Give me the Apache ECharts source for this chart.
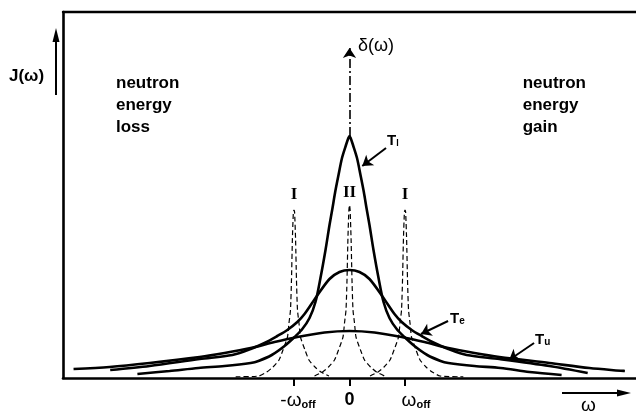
<!DOCTYPE html>
<html>
<head>
<meta charset="utf-8">
<script src="https://cdn.jsdelivr.net/npm/echarts@6/dist/echarts.min.js"></script>
<style>html,body{margin:0;padding:0;background:#fff}#c{width:636px;height:412px}</style>
</head>
<body>
<div id="c"></div>
<script>
// x in units of omega/omega_off, y = intensity (arbitrary units)
const tickValues = [-1, 0, 1];
const tickLabels = ['-ω_off', '0', 'ω_off'];

const curveTu = [[-4.97,9],[-4.32,11],[-3.6,15],[-2.7,21],[-2.25,25],[-1.78,30],[-1.35,36],[-0.94,41],[-0.45,45.5],[0,47],
  [0.45,45.5],[0.94,41],[1.35,36],[1.78,30],[2.25,25],[2.7,21],[3.6,15],[4.32,10],[4.96,7]];
const curveTe = [[-4.31,8],[-3.6,12],[-2.7,19],[-2.11,23],[-1.78,29],[-1.53,35],[-1.3,42],[-1.12,48],[-0.94,56],[-0.81,64],[-0.6,81],[-0.36,99],[-0.18,106],[0,108],
  [0.18,106],[0.36,99],[0.6,81],[0.81,64],[0.94,56],[1.12,48],[1.3,42],[1.53,35],[1.78,29],[2.11,23],[2.7,19],[3.6,12],[4.29,5]];
const curveTl = [[-3.82,4],[-3.24,7],[-2.72,10],[-2.25,12],[-1.78,15],[-1.64,17],[-1.4,23],[-1.17,32],[-0.99,41],[-0.85,49],[-0.72,60],[-0.613,76],[-0.523,100],[-0.432,128],[-0.36,153],[-0.306,170],[-0.258,186],[-0.198,203],[-0.135,220],[-0.063,233],[-0.02,240],[0,242],
  [0.02,240],[0.063,233],[0.135,220],[0.198,203],[0.258,186],[0.306,170],[0.36,153],[0.432,128],[0.523,100],[0.613,76],[0.72,60],[0.85,49],[0.99,41],[1.17,32],[1.4,23],[1.64,17],[1.78,15],[2.25,12],[2.72,10],[3.24,6],[3.82,3]];
const peakLeft = [[-2.05,1.2],[-1.63,2],[-1.49,6],[-1.378,11],[-1.27,18],[-1.198,28],[-1.117,41],[-1.09,55],[-1.063,68],[-1.045,98],[-1.029,138],[-1.011,166],[-1,168],
  [-0.989,166],[-0.971,138],[-0.955,98],[-0.937,68],[-0.91,55],[-0.883,41],[-0.802,28],[-0.73,18],[-0.622,11],[-0.514,6],[-0.37,2]];
const peakCentre = [[-0.63,2],[-0.486,6],[-0.378,11],[-0.27,18],[-0.198,28],[-0.117,41],[-0.09,55],[-0.063,68],[-0.045,98],[-0.029,138],[-0.011,168],[0,173],
  [0.011,168],[0.029,138],[0.045,98],[0.063,68],[0.09,55],[0.117,41],[0.198,28],[0.27,18],[0.378,11],[0.486,6],[0.63,2]];
const peakRight = [[0.37,2],[0.514,6],[0.622,11],[0.73,18],[0.802,28],[0.883,41],[0.91,55],[0.937,68],[0.955,98],[0.971,138],[0.989,166],[1,168],
  [1.011,166],[1.029,138],[1.045,98],[1.063,68],[1.09,55],[1.117,41],[1.198,28],[1.27,18],[1.378,11],[1.49,6],[1.63,2],[2.05,1.2]];
// pointer arrows [from, to]
const arrowTl = [[0.658,230],[0.23,212]];
const arrowTe = [[1.775,57],[1.288,44]];
const arrowTu = [[3.324,35],[2.874,18]];
const arrowDelta = [[0,242],[0,330]];

const chart = echarts.init(document.getElementById('c'), null, {renderer:'canvas'});
const solid = (name, data) => ({
  name, type:'line', data, showSymbol:false, smooth:0.3,
  lineStyle:{color:'#000', width:2.6}, animation:false, z:3
});
const dashed = (name, data) => ({
  name, type:'line', data, showSymbol:false, smooth:0.2,
  lineStyle:{color:'#000', width:1.2, type:[5,3]}, animation:false, z:2
});
const arrowLine = (pair, type) => ({
  silent:true, animation:false, symbol:['none','arrow'], symbolSize:10,
  label:{show:false}, lineStyle:{color:'#000', width:type ? 1.6 : 2, type: type || 'solid'},
  itemStyle:{color:'#000'},
  emphasis:{disabled:true},
  data:[[{coord:pair[0]},{coord:pair[1]}]]
});
const sTl = solid('Tl', curveTl);
sTl.markLine = arrowLine(arrowTl);
const sTe = solid('Te', curveTe);
sTe.markLine = arrowLine(arrowTe);
const sTu = solid('Tu', curveTu);
sTu.markLine = arrowLine(arrowTu);
const sC = dashed('II', peakCentre);
sC.markLine = arrowLine(arrowDelta, [9,3,2,3]);

const sub = {fontFamily:'Liberation Sans', fontWeight:'bold', fontSize:11, padding:[8,0,0,0], color:'#000'};
chart.setOption({
  animation:false,
  grid:{left:63, right:0, top:12, bottom:34},
  xAxis:[{
    type:'value', min:-5.16, max:5.16, position:'bottom',
    axisLine:{show:true, onZero:false, lineStyle:{color:'#000', width:2.6}},
    splitLine:{show:false},
    axisTick:{show:true, customValues:tickValues, length:8, inside:false, lineStyle:{color:'#000', width:2}},
    axisLabel:{show:true, customValues:tickValues, margin:13,
      formatter:(v)=>{
        const i = tickValues.indexOf(v);
        const t = tickLabels[i];
        if (t === '0') return '{z|0}';
        if (t.startsWith('-')) return '{pa|}{w|-ω}{s|off}';
        return '{pb|}{w|ω}{s|off}';
      },
      rich:{
        z:{fontFamily:'Liberation Sans', fontWeight:'bold', fontSize:18, color:'#000'},
        w:{fontFamily:'Liberation Sans', fontSize:19, color:'#000'},
        s:sub,
        pa:{width:8},
        pb:{width:22}
      }}
  },{
    type:'value', min:-5.16, max:5.16, position:'top',
    axisLine:{show:true, onZero:false, lineStyle:{color:'#000', width:2.4}},
    axisTick:{show:false}, axisLabel:{show:false}, splitLine:{show:false}
  }],
  yAxis:{
    type:'value', min:0, max:366, position:'left',
    axisLine:{show:true, onZero:false, lineStyle:{color:'#000', width:2.6}},
    axisTick:{show:false}, axisLabel:{show:false}, splitLine:{show:false}
  },
  series:[sTu, sTe, sTl, dashed('I-', peakLeft), sC, dashed('I+', peakRight)],
  graphic:[
    // J(omega) label and arrow
    {type:'text', left:9, top:68, style:{text:'J(ω)', font:'bold 17px "Liberation Sans"', fill:'#000'}},
    {type:'line', shape:{x1:56, y1:95, x2:56, y2:40}, style:{stroke:'#000', lineWidth:2}},
    {type:'polygon', shape:{points:[[52.5,42],[56,28],[59.5,42]]}, style:{fill:'#000'}},
    // omega arrow
    {type:'line', shape:{x1:562, y1:393, x2:620, y2:393}, style:{stroke:'#000', lineWidth:2}},
    {type:'polygon', shape:{points:[[617,389.5],[631,393],[617,396.5]]}, style:{fill:'#000'}},
    {type:'text', left:581, top:396, style:{text:'ω', font:'19px "Liberation Sans"', fill:'#000'}},
    // region labels
    {type:'text', left:116, top:72, style:{text:'neutron\nenergy\nloss', font:'bold 17px "Liberation Sans"', lineHeight:22, fill:'#000'}},
    {type:'text', right:50, top:72, style:{text:'neutron\nenergy\ngain', font:'bold 17px "Liberation Sans"', lineHeight:22, fill:'#000', align:'right'}},
    {type:'text', left:358, top:37, style:{text:'δ(ω)', font:'18px "Liberation Sans"', fill:'#000'}},
    // roman numerals
    {type:'text', x:294, y:195, style:{text:'I', font:'bold 17px "Liberation Serif"', fill:'#000', align:'center', verticalAlign:'middle'}},
    {type:'text', x:349.5, y:193, style:{text:'II', font:'bold 17px "Liberation Serif"', fill:'#000', align:'center', verticalAlign:'middle'}},
    {type:'text', x:405, y:195, style:{text:'I', font:'bold 17px "Liberation Serif"', fill:'#000', align:'center', verticalAlign:'middle'}},
    // temperature labels
    {type:'text', left:387, top:133, style:{text:'{t|T}{s|l}', rich:{t:{font:'bold 15px "Liberation Sans"', fill:'#000'}, s:{font:'bold 9px "Liberation Sans"', fill:'#000', padding:[6,0,0,0]}}}},
    {type:'text', left:450, top:311, style:{text:'{t|T}{s|e}', rich:{t:{font:'bold 15px "Liberation Sans"', fill:'#000'}, s:{font:'bold 10px "Liberation Sans"', fill:'#000', padding:[6,0,0,0]}}}},
    {type:'text', left:535, top:332, style:{text:'{t|T}{s|u}', rich:{t:{font:'bold 15px "Liberation Sans"', fill:'#000'}, s:{font:'bold 10px "Liberation Sans"', fill:'#000', padding:[6,0,0,0]}}}}
  ]
});
</script>
</body>
</html>
